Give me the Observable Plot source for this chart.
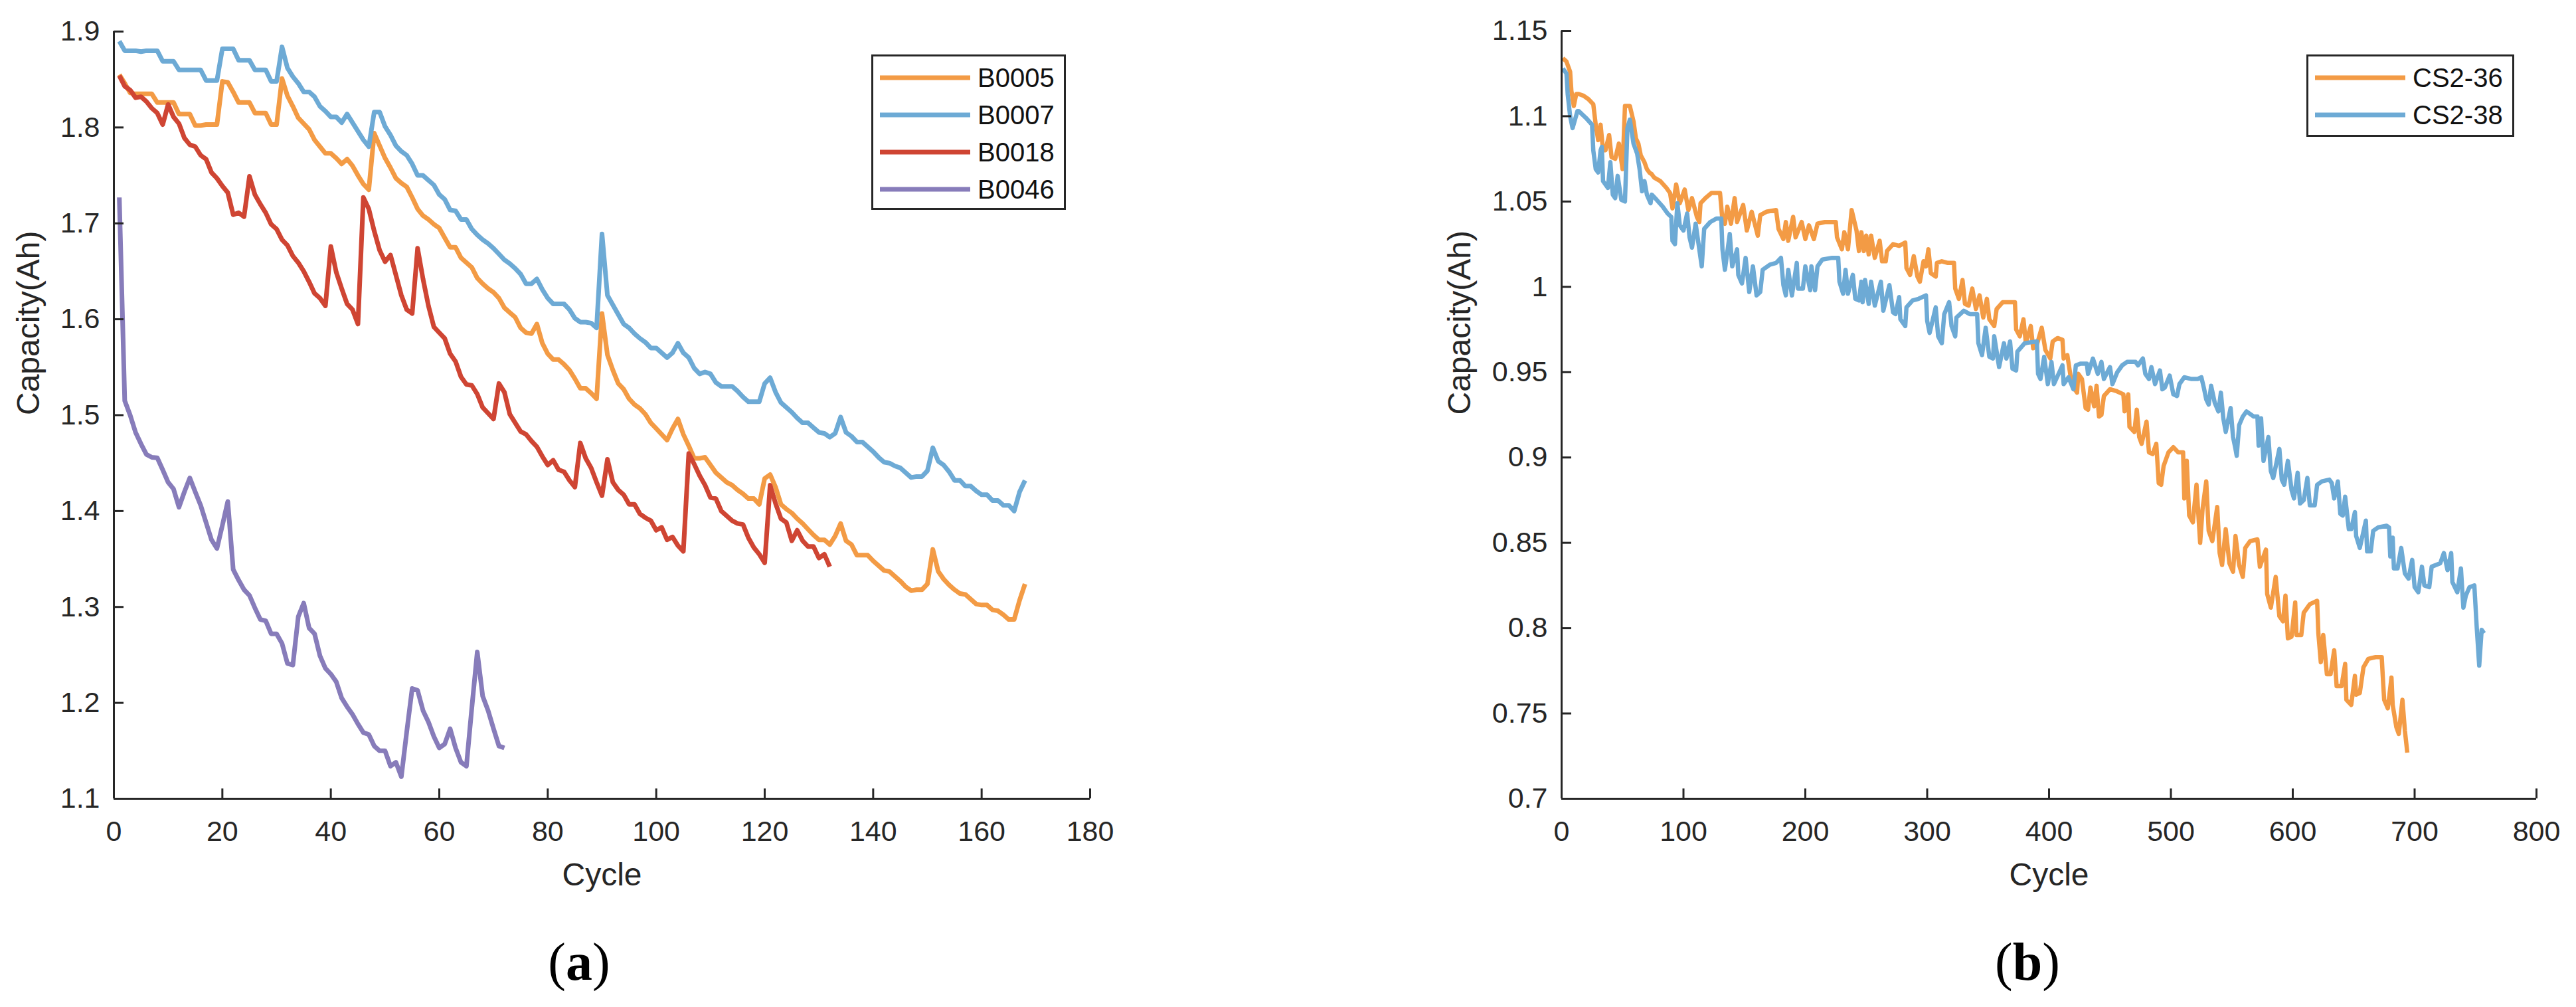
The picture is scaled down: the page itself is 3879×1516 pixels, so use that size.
<!DOCTYPE html>
<html>
<head>
<meta charset="utf-8">
<script src="https://cdn.jsdelivr.net/npm/d3@7"></script>
<script src="https://cdn.jsdelivr.net/npm/@observablehq/plot@0.6"></script>
<style>
  html, body { margin: 0; padding: 0; background: #fff; }
  #root { position: relative; width: 3879px; height: 1516px; overflow: hidden; background: #fff;
          font-family: "Liberation Sans", Arial, sans-serif; }
  .panel { position: absolute; top: 0; }
  .legend { position: absolute; }
  .tag { position: absolute; font-family: "Liberation Serif", "Times New Roman", serif; font-size: 80px;
         line-height: 80px; color: #000; transform: translateX(-50%); white-space: nowrap; }
</style>
</head>
<body>
<div id="root"></div>
<script>
// ---------------- data: panel (a) NASA batteries, capacity per cycle (cycle 1..N) ----------------
const seriesA = ["B0005", "B0007", "B0018", "B0046"];
const b0005 = [1.855,1.846,1.836,1.835,1.835,1.835,1.835,1.826,1.826,1.826,1.826,1.814,1.814,1.814,1.802,1.802,1.803,1.803,1.803,1.848,
1.847,1.837,1.826,1.826,1.826,1.815,1.815,1.815,1.803,1.803,1.851,1.833,1.822,1.810,1.804,1.798,1.787,1.780,1.773,1.773,
1.768,1.762,1.767,1.760,1.750,1.741,1.735,1.794,1.781,1.768,1.758,1.747,1.742,1.738,1.727,1.715,1.708,1.704,1.699,1.695,
1.685,1.675,1.675,1.664,1.659,1.654,1.643,1.637,1.632,1.628,1.622,1.612,1.607,1.602,1.591,1.586,1.585,1.595,1.575,1.564,
1.558,1.558,1.553,1.547,1.538,1.528,1.528,1.523,1.517,1.606,1.563,1.547,1.533,1.527,1.517,1.511,1.507,1.501,1.492,1.486,
1.480,1.474,1.486,1.496,1.480,1.468,1.455,1.455,1.456,1.448,1.440,1.435,1.430,1.427,1.422,1.418,1.413,1.413,1.407,1.434,
1.438,1.425,1.407,1.402,1.398,1.392,1.387,1.381,1.375,1.370,1.370,1.365,1.374,1.387,1.369,1.365,1.354,1.354,1.354,1.348,
1.343,1.338,1.337,1.332,1.327,1.321,1.317,1.318,1.318,1.324,1.360,1.337,1.329,1.323,1.318,1.314,1.313,1.308,1.303,1.302,
1.302,1.297,1.296,1.292,1.287,1.287,1.307,1.324];
const b0007 = [1.890,1.880,1.880,1.880,1.879,1.880,1.880,1.880,1.869,1.869,1.869,1.860,1.860,1.860,1.860,1.860,1.849,1.849,1.849,1.882,
1.882,1.882,1.870,1.870,1.870,1.860,1.860,1.860,1.848,1.848,1.884,1.862,1.853,1.846,1.837,1.837,1.832,1.822,1.817,1.811,
1.811,1.805,1.814,1.805,1.796,1.787,1.780,1.816,1.816,1.801,1.792,1.781,1.775,1.771,1.762,1.750,1.750,1.745,1.740,1.730,
1.725,1.714,1.713,1.704,1.704,1.694,1.688,1.683,1.679,1.674,1.668,1.662,1.658,1.653,1.647,1.637,1.637,1.642,1.631,1.622,
1.616,1.616,1.616,1.610,1.601,1.597,1.597,1.596,1.591,1.689,1.625,1.615,1.605,1.595,1.591,1.585,1.580,1.576,1.570,1.570,
1.565,1.560,1.565,1.575,1.565,1.560,1.549,1.543,1.545,1.543,1.534,1.530,1.530,1.530,1.525,1.519,1.514,1.514,1.514,1.533,
1.539,1.524,1.513,1.508,1.503,1.497,1.492,1.492,1.487,1.482,1.481,1.477,1.481,1.498,1.482,1.478,1.472,1.472,1.467,1.462,
1.456,1.451,1.450,1.447,1.445,1.440,1.435,1.436,1.436,1.442,1.466,1.452,1.448,1.441,1.432,1.432,1.426,1.426,1.421,1.417,
1.417,1.411,1.411,1.406,1.406,1.400,1.420,1.432];
const b0018 = [1.854,1.843,1.839,1.831,1.832,1.827,1.820,1.815,1.803,1.824,1.811,1.804,1.789,1.782,1.780,1.771,1.767,1.753,1.747,1.739,
1.732,1.709,1.711,1.707,1.749,1.730,1.720,1.711,1.699,1.694,1.683,1.677,1.666,1.659,1.650,1.639,1.627,1.622,1.614,1.676,
1.649,1.632,1.616,1.610,1.595,1.727,1.715,1.692,1.672,1.660,1.667,1.646,1.625,1.610,1.606,1.674,1.642,1.614,1.592,1.586,
1.580,1.564,1.556,1.540,1.532,1.531,1.522,1.508,1.502,1.496,1.533,1.524,1.501,1.492,1.483,1.480,1.473,1.467,1.457,1.448,
1.453,1.443,1.441,1.432,1.425,1.471,1.455,1.445,1.430,1.416,1.454,1.430,1.422,1.417,1.407,1.407,1.397,1.393,1.390,1.380,
1.383,1.370,1.373,1.364,1.358,1.460,1.449,1.437,1.427,1.414,1.413,1.400,1.395,1.390,1.387,1.386,1.372,1.362,1.355,1.346,
1.427,1.408,1.392,1.388,1.369,1.380,1.369,1.363,1.363,1.351,1.355,1.342];
const b0046 = [1.727,1.515,1.500,1.482,1.470,1.459,1.456,1.4555,1.443,1.430,1.423,1.404,1.420,1.4345,1.420,1.406,1.388,1.370,1.361,1.385,
1.410,1.339,1.328,1.318,1.312,1.299,1.287,1.2855,1.272,1.272,1.262,1.241,1.2395,1.290,1.304,1.278,1.272,1.249,1.236,1.230,
1.222,1.205,1.196,1.188,1.178,1.169,1.167,1.155,1.150,1.150,1.134,1.138,1.123,1.170,1.215,1.213,1.192,1.180,1.165,1.153,
1.157,1.173,1.153,1.138,1.134,1.195,1.253,1.207,1.192,1.173,1.155,1.153];
const xTicksA = [0, 20, 40, 60, 80, 100, 120, 140, 160, 180];
const yTicksA = [1.1, 1.2, 1.3, 1.4, 1.5, 1.6, 1.7, 1.8, 1.9];

// ---------------- data: panel (b) CALCE cells, vertices ----------------
const seriesB = ["CS2-36", "CS2-38"];
const cs236Cycle = [1,4,7,8,10,12,14,18,22,26,28,30,32,34,36,39,41,44,47,50,52,56,59,61,63,65,68,70,72,74,76,81,86,89,91,94,97,101,104,107,
111,113,114,118,123,130,132,134,136,139,142,144,149,152,156,161,163,168,176,178,182,184,186,190,192,197,200,203,207,210,216,225,226,230,232,235,238,242,244,246,
248,250,252,254,257,261,263,266,267,272,277,282,283,286,289,292,294,297,299,301,303,307,308,312,317,322,323,326,329,331,334,337,340,343,346,349,351,355,357,362,
368,372,373,376,379,381,385,387,390,394,397,401,403,407,411,412,415,418,421,423,424,427,430,432,434,437,439,441,443,445,450,455,461,462,465,466,470,472,474,476,
480,482,485,488,490,492,494,498,502,506,510,511,513,515,518,521,524,526,529,531,534,538,540,542,545,548,551,553,556,559,561,565,571,573,578,579,582,586,589,592,
594,596,599,602,603,607,609,614,620,621,623,625,628,631,634,636,640,643,644,648,651,652,655,658,662,668,673,674,675,678,681,682,685,687,690,692,694];
const cs236Cap = [1.134,1.132,1.126,1.115,1.106,1.113,1.113,1.112,1.110,1.107,1.095,1.086,1.095,1.080,1.080,1.089,1.076,1.075,1.084,1.069,1.106,1.106,1.097,1.087,1.084,1.077,1.073,1.069,1.067,1.066,1.064,1.062,1.058,1.055,1.046,1.060,1.049,1.057,1.045,1.052,
1.041,1.038,1.049,1.052,1.055,1.055,1.039,1.037,1.047,1.037,1.052,1.038,1.048,1.033,1.044,1.030,1.042,1.044,1.045,1.034,1.028,1.038,1.027,1.041,1.029,1.038,1.028,1.036,1.028,1.037,1.038,1.038,1.029,1.022,1.032,1.022,1.045,1.033,1.021,1.032,
1.021,1.030,1.019,1.030,1.017,1.027,1.015,1.015,1.021,1.025,1.024,1.026,1.011,1.007,1.018,1.006,1.003,1.015,1.012,1.022,1.008,1.006,1.014,1.015,1.014,1.014,0.999,0.993,1.004,0.990,0.989,0.999,0.987,0.995,0.982,0.993,0.981,0.977,0.987,0.991,
0.991,0.991,0.975,0.971,0.981,0.967,0.977,0.964,0.966,0.976,0.963,0.958,0.968,0.970,0.969,0.958,0.960,0.946,0.940,0.938,0.949,0.946,0.929,0.928,0.941,0.930,0.942,0.924,0.925,0.936,0.940,0.939,0.937,0.927,0.937,0.918,0.915,0.928,0.912,0.908,
0.921,0.903,0.902,0.908,0.885,0.884,0.895,0.903,0.906,0.903,0.903,0.876,0.898,0.866,0.862,0.884,0.850,0.870,0.886,0.857,0.851,0.871,0.844,0.837,0.858,0.838,0.833,0.854,0.837,0.830,0.847,0.851,0.852,0.836,0.846,0.820,0.812,0.830,0.807,0.804,
0.819,0.794,0.795,0.815,0.796,0.796,0.809,0.814,0.816,0.797,0.780,0.796,0.773,0.773,0.787,0.766,0.766,0.779,0.758,0.755,0.772,0.761,0.762,0.777,0.782,0.783,0.783,0.770,0.758,0.753,0.771,0.755,0.742,0.738,0.758,0.740,0.727];
const cs238Cycle = [1,4,5,7,9,11,13,14,20,25,26,28,30,32,33,34,38,40,42,44,46,49,52,54,56,59,62,64,66,68,70,73,74,78,83,87,90,91,93,95,
97,100,103,105,107,110,113,115,117,122,127,131,132,134,138,140,144,145,148,151,154,157,160,163,165,171,176,180,182,184,186,189,193,194,198,200,204,205,208,210,
214,222,227,228,231,233,235,239,241,244,246,247,249,252,254,257,262,264,269,272,274,277,278,282,283,288,293,299,300,302,307,309,312,314,318,320,323,324,330,335,
341,342,345,348,351,354,355,359,363,365,368,370,373,374,380,390,391,393,396,399,402,404,411,412,416,420,422,426,431,432,436,440,443,445,450,452,456,460,464,471,
473,477,479,482,484,487,491,493,495,499,502,505,507,511,517,522,525,527,529,531,533,536,539,541,543,545,549,551,553,554,556,559,562,568,571,572,574,576,580,582,
584,589,591,593,596,599,601,604,606,609,612,614,618,620,624,630,632,634,637,639,641,643,646,648,651,652,655,660,661,664,666,670,677,679,680,682,683,686,689,692,
695,698,700,703,706,708,712,714,721,724,727,730,731,735,738,740,742,745,749,751,753,755,757];
const cs238Cap = [1.128,1.125,1.113,1.100,1.093,1.098,1.103,1.103,1.099,1.095,1.080,1.069,1.067,1.080,1.082,1.062,1.058,1.073,1.054,1.052,1.065,1.051,1.050,1.093,1.098,1.084,1.078,1.069,1.056,1.062,1.054,1.049,1.054,1.051,1.047,1.043,1.041,1.027,1.025,1.049,
1.036,1.033,1.043,1.029,1.023,1.037,1.022,1.012,1.034,1.038,1.040,1.040,1.022,1.010,1.031,1.012,1.022,1.007,1.002,1.017,0.997,1.012,0.995,0.997,1.010,1.013,1.014,1.017,1.001,0.995,1.010,0.995,1.014,0.999,0.999,1.012,0.998,1.012,0.998,1.012,
1.016,1.017,1.017,1.003,0.996,1.010,0.996,1.007,0.993,0.992,1.003,0.991,1.004,0.990,1.003,0.989,1.003,0.986,1.001,0.985,0.984,0.994,0.981,0.977,0.988,0.992,0.993,0.995,0.980,0.973,0.988,0.971,0.967,0.984,0.991,0.977,0.971,0.982,0.986,0.984,
0.984,0.967,0.960,0.976,0.959,0.958,0.971,0.953,0.967,0.958,0.968,0.952,0.951,0.962,0.967,0.968,0.949,0.946,0.959,0.943,0.956,0.943,0.954,0.943,0.947,0.940,0.954,0.955,0.955,0.949,0.958,0.949,0.956,0.946,0.953,0.943,0.950,0.954,0.956,0.956,
0.954,0.958,0.949,0.946,0.953,0.943,0.951,0.940,0.941,0.948,0.937,0.936,0.943,0.947,0.946,0.946,0.947,0.941,0.934,0.931,0.942,0.932,0.927,0.938,0.923,0.915,0.929,0.912,0.905,0.901,0.919,0.924,0.927,0.924,0.924,0.907,0.923,0.898,0.912,0.892,
0.888,0.905,0.887,0.884,0.898,0.881,0.876,0.891,0.873,0.875,0.888,0.872,0.872,0.884,0.886,0.887,0.885,0.876,0.886,0.867,0.866,0.877,0.858,0.858,0.868,0.854,0.847,0.863,0.845,0.845,0.857,0.859,0.860,0.859,0.842,0.853,0.835,0.835,0.847,0.832,
0.829,0.840,0.824,0.821,0.836,0.825,0.824,0.836,0.838,0.844,0.834,0.844,0.827,0.821,0.835,0.812,0.819,0.824,0.825,0.800,0.778,0.799,0.797];
const xTicksB = [0, 100, 200, 300, 400, 500, 600, 700, 800];
const yTicksB = [0.7, 0.75, 0.8, 0.85, 0.9, 0.95, 1, 1.05, 1.1, 1.15];

// ---------------- styling ----------------
const ink = "#262626";
const colors = {B0005: "#F39B45", B0007: "#6DAAD5", B0018: "#CF4533", B0046: "#877CBA",
                "CS2-36": "#F39B45", "CS2-38": "#6DAAD5"};
const root = document.getElementById("root");
const fmt = d => String(+(+d).toFixed(2));

function makePanel(cfg) {
  const plotW = cfg.width - cfg.mL - cfg.mR;
  const plotH = cfg.height - cfg.mT - cfg.mB;
  const chart = Plot.plot({
    width: cfg.width, height: cfg.height,
    marginLeft: cfg.mL, marginRight: cfg.mR, marginTop: cfg.mT, marginBottom: cfg.mB,
    style: {fontFamily: "'Liberation Sans', Arial, sans-serif", fontSize: "43px", color: ink,
            background: "transparent", maxWidth: "none", overflow: "visible"},
    x: {domain: cfg.xDomain, ticks: cfg.xTicks},
    y: {domain: cfg.yDomain, ticks: cfg.yTicks},
    marks: [
      ...cfg.lines,
      Plot.ruleX([cfg.xDomain[0]], {stroke: ink, strokeWidth: 3}),
      Plot.ruleY([cfg.yDomain[0]], {stroke: ink, strokeWidth: 3}),
      Plot.tickX(cfg.xTicks, {x: d => d, stroke: ink, strokeWidth: 3, insetTop: plotH - 15}),
      Plot.tickY(cfg.yTicks, {y: d => d, stroke: ink, strokeWidth: 3, insetRight: plotW - 15}),
      Plot.axisX({ticks: cfg.xTicks, tickSize: 0, tickPadding: 33, tickFormat: fmt, label: null, fill: ink}),
      Plot.axisY({ticks: cfg.yTicks, tickSize: 0, tickPadding: 21, tickFormat: fmt, label: null, fill: ink}),
      Plot.text(["Cycle"], {frameAnchor: "bottom", dy: 115, fontSize: 48, lineAnchor: "middle", fill: ink}),
      Plot.text(["Capacity(Ah)"], {frameAnchor: "left", dx: cfg.yLabelDx, rotate: -90, fontSize: 48,
                                   lineAnchor: "middle", fill: ink})
    ]
  });
  const wrap = document.createElement("div");
  wrap.className = "panel";
  wrap.style.left = cfg.left + "px";
  wrap.style.width = cfg.width + "px";
  wrap.style.height = cfg.height + "px";
  wrap.appendChild(chart);
  root.appendChild(wrap);
}

function makeLegend(names, box) {
  const svg = d3.create("svg").attr("width", box.w).attr("height", box.h)
    .attr("class", "legend").style("left", box.x + "px").style("top", box.y + "px");
  svg.append("rect").attr("x", 1.5).attr("y", 1.5).attr("width", box.w - 3).attr("height", box.h - 3)
    .attr("fill", "#fff").attr("stroke", ink).attr("stroke-width", 3);
  names.forEach((n, i) => {
    const y = 35 + 56 * i;
    svg.append("line").attr("x1", 13).attr("x2", 149).attr("y1", y).attr("y2", y)
      .attr("stroke", colors[n]).attr("stroke-width", 7);
    svg.append("text").attr("x", 160).attr("y", y).attr("dy", "0.36em")
      .attr("font-family", "'Liberation Sans', Arial, sans-serif").attr("font-size", 40)
      .attr("fill", "#111").text(n);
  });
  root.appendChild(svg.node());
}

function makeTag(letter, cx) {
  const d = document.createElement("div");
  d.className = "tag";
  d.style.left = cx + "px";
  d.style.top = "1408px";
  d.innerHTML = "(<b>" + letter + "</b>)";
  root.appendChild(d);
}

// ---------------- panel (a) ----------------
const dataA = [b0005, b0007, b0018, b0046];
makePanel({
  left: 0, width: 1800, height: 1516, mL: 171, mR: 159, mT: 47, mB: 314,
  xDomain: [0, 180], yDomain: [1.1, 1.9], xTicks: xTicksA, yTicks: yTicksA, yLabelDx: -128,
  lines: dataA.map((vals, k) => Plot.lineY(vals, {
    x: (d, i) => i + 1, y: d => d, stroke: colors[seriesA[k]], strokeWidth: 7,
    strokeLinejoin: "round", strokeLinecap: "butt"}))
});
makeLegend(seriesA, {x: 1312, y: 82, w: 293, h: 234});
makeTag("a", 872);

// ---------------- panel (b) ----------------
const dataB = [[cs236Cycle, cs236Cap], [cs238Cycle, cs238Cap]];
makePanel({
  left: 1800, width: 2079, height: 1516, mL: 551, mR: 60, mT: 46, mB: 314,
  xDomain: [0, 800], yDomain: [0.7, 1.15], xTicks: xTicksB, yTicks: yTicksB, yLabelDx: -153,
  lines: dataB.map(([cyc, cap], k) => Plot.line(cyc.map((c, i) => [c, cap[i]]), {
    x: d => d[0], y: d => d[1], stroke: colors[seriesB[k]], strokeWidth: 6.5,
    strokeLinejoin: "round", strokeLinecap: "butt"}))
});
makeLegend(seriesB, {x: 3473, y: 82, w: 313, h: 124});
makeTag("b", 3053);
</script>
</body>
</html>
